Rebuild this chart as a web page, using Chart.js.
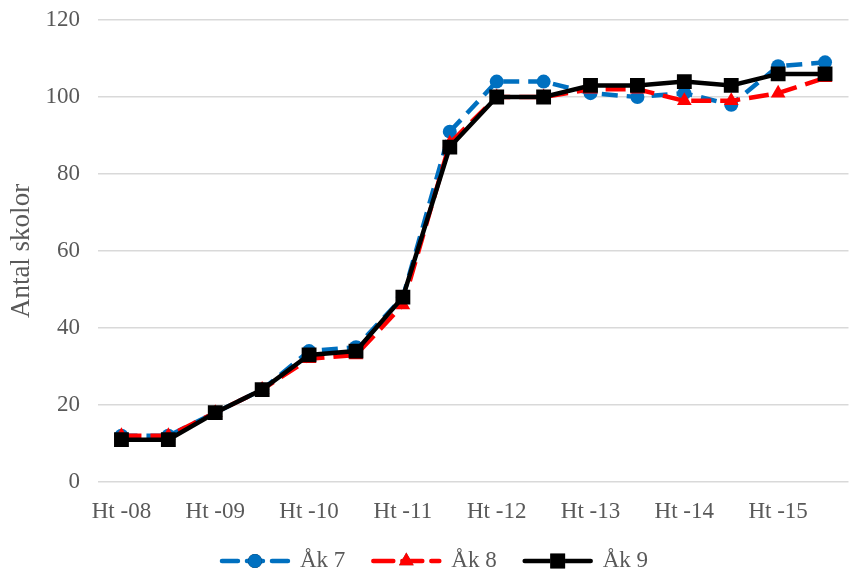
<!DOCTYPE html>
<html>
<head>
<meta charset="utf-8">
<script src="https://cdn.jsdelivr.net/npm/chart.js@4"></script>
<style>
  html, body { margin: 0; padding: 0; background: #fff; overflow: hidden; }
  /* plot area runs a little past the right edge, like the cropped original */
  #wrap { width: 849px; height: 571px; overflow: hidden; }
</style>
</head>
<body>
<div id="wrap"><canvas id="chart0" width="859" height="571"></canvas></div>
<script>
// terminer, bara varannan visas på axeln
var terms = ['Ht -08', 'Vt -09', 'Ht -09', 'Vt -10', 'Ht -10', 'Vt -11', 'Ht -11', 'Vt -12',
             'Ht -12', 'Vt -13', 'Ht -13', 'Vt -14', 'Ht -14', 'Vt -15', 'Ht -15', 'Vt -16'];
var ak7 = [12, 12, 18, 24, 34, 35, 48, 91, 104, 104, 101, 100, 101, 98, 108, 109];
var ak8 = [12, 12, 18, 24, 32, 33, 46, 88, 100, 100, 102, 102, 99, 99, 101, 105];
var ak9 = [11, 11, 18, 24, 33, 34, 48, 87, 100, 100, 103, 103, 104, 103, 106, 106];
var yTicks = [0, 20, 40, 60, 80, 100, 120];

var serif = '"Liberation Serif", "Times New Roman", serif';
var grey = '#595959';

// legend like excel: line segment + marker + text
var excelLegend = {
  id: 'excelLegend',
  afterDraw: function(chart) {
    var ctx = chart.ctx;
    var sets = chart.data.datasets;
    var lineLen = 66, gap = 12, space = 28, y = 561;
    ctx.save();
    ctx.font = '23px ' + serif;
    var total = 0;
    sets.forEach(function(ds, i) {
      total += lineLen + gap + ctx.measureText(ds.label).width + (i ? space : 0);
    });
    var x = 435 - total / 2;
    sets.forEach(function(ds) {
      ctx.strokeStyle = ds.borderColor;
      ctx.lineWidth = ds.borderWidth;
      ctx.lineCap = 'round';
      ctx.setLineDash(ds.borderDash || []);
      ctx.beginPath();
      ctx.moveTo(x, y);
      ctx.lineTo(x + lineLen, y);
      ctx.stroke();
      ctx.setLineDash([]);
      Chart.helpers.drawPoint(ctx, {
        pointStyle: ds.pointStyle, radius: ds.pointRadius, borderWidth: 0
      }, x + lineLen / 2, y);
      ctx.fillStyle = ds.borderColor;
      ctx.fill();
      x += lineLen + gap;
      ctx.fillStyle = grey;
      ctx.textBaseline = 'middle';
      ctx.fillText(ds.label, x, y);
      x += ctx.measureText(ds.label).width + space;
    });
    ctx.restore();
  }
};

Chart.defaults.font.family = serif;
Chart.defaults.color = grey;

new Chart('chart0', {
  type: 'line',
  data: {
    labels: terms,
    datasets: [
      {
        label: 'Åk 7',
        data: ak7,
        borderColor: '#0070C0',
        backgroundColor: '#0070C0',
        borderWidth: 4.5,
        borderDash: [16, 9],
        pointStyle: 'circle',
        pointRadius: 7,
        pointBorderWidth: 0,
        tension: 0,
        order: 2
      },
      {
        label: 'Åk 8',
        data: ak8,
        borderColor: '#FF0000',
        backgroundColor: '#FF0000',
        borderWidth: 4.5,
        borderDash: [20, 9],
        pointStyle: 'triangle',
        pointRadius: 8.5,
        pointBorderWidth: 0,
        tension: 0,
        order: 1
      },
      {
        label: 'Åk 9',
        data: ak9,
        borderColor: '#000000',
        backgroundColor: '#000000',
        borderWidth: 4.5,
        pointStyle: 'rect',
        pointRadius: 10.5,
        pointBorderWidth: 0,
        tension: 0,
        order: 0
      }
    ]
  },
  options: {
    responsive: false,
    animation: false,
    layout: { padding: { top: 20, right: 0, bottom: 37, left: 6 } },
    plugins: {
      legend: { display: false },
      tooltip: { enabled: false }
    },
    scales: {
      x: {
        offset: true,
        grid: { display: false },
        border: { display: false },
        ticks: {
          autoSkip: false,
          maxRotation: 0,
          padding: 8,
          font: { size: 23 },
          callback: function(v, i) { return i % 2 === 0 ? this.getLabelForValue(v) : ''; }
        },
        afterFit: function(s) { s.height = 52; s.paddingLeft = 0; s.paddingRight = 0; }
      },
      y: {
        min: 0,
        max: 120,
        afterBuildTicks: function(s) { s.ticks = yTicks.map(function(v) { return { value: v }; }); },
        grid: { color: '#d9d9d9', lineWidth: 1.5, drawTicks: false },
        border: { display: false },
        ticks: { padding: 18, font: { size: 23 } },
        title: { display: true, text: 'Antal skolor', font: { size: 27 }, padding: { top: 0, bottom: 0 } },
        afterFit: function(s) { s.width = 92; s.paddingTop = 0; s.paddingBottom = 0; }
      }
    }
  },
  plugins: [excelLegend]
});
</script>
</body>
</html>
